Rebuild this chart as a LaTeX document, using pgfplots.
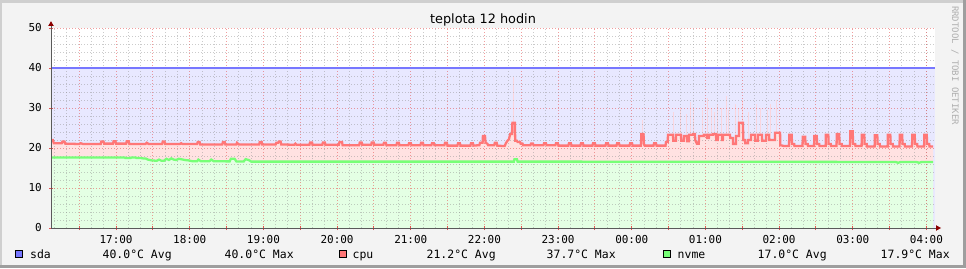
\documentclass[border=0pt]{standalone}
\usepackage{fontspec}
\setmainfont{DejaVu Sans}
\setmonofont{DejaVu Sans Mono}
\usepackage{pgfplots}
\pgfplotsset{compat=1.18}
\usepackage{pgfplotstable}

\definecolor{bgc}{RGB}{243,243,243}
\definecolor{shA}{RGB}{207,207,207}
\definecolor{shB}{RGB}{158,158,158}
\definecolor{sdaline}{RGB}{119,119,255}
\definecolor{sdafill}{RGB}{232,232,255}
\definecolor{cpuline}{RGB}{255,119,119}
\definecolor{cpufill}{RGB}{255,226,226}
\definecolor{cpumax}{RGB}{250,214,222}
\definecolor{nvmeline}{RGB}{119,255,119}
\definecolor{nvmefill}{RGB}{228,255,228}
\definecolor{gridmin}{RGB}{140,140,140}
\definecolor{gridmaj}{RGB}{230,80,80}
\definecolor{axisc}{RGB}{90,90,90}
\definecolor{arrowc}{RGB}{140,0,0}
\definecolor{credit}{RGB}{175,175,175}

\newcommand\legfont{\ttfamily\fontsize{11.5}{13}\selectfont}

% minutes since 16:00, temperature in degC
\pgfplotstableread{
m v
7 22.0
8.5 22.0
9.3 21.2
15.8 21.2
16.3 21.6
18.0 21.6
18.5 21.1
30 21.0
31 21.2
33 21.0
47.5 21.0
48 21.6
49.8 21.6
50.3 21.1
57.5 21.1
58 21.7
59.5 21.7
60 21.1
68.2 21.1
68.7 21.7
70.3 21.7
70.8 21.0
84 21.0
85 21.3
86.5 21.0
97.5 21.0
98 21.6
99.5 21.6
100 21.0
112 21.0
113 21.2
114 21.0
126 21.0
126.5 21.5
128 21.5
128.5 20.9
146.5 20.9
147 21.5
148.5 21.5
149 20.9
158 20.9
158.5 21.3
160 20.9
176.6 20.9
177 21.5
178.6 21.5
179 20.9
190 20.9
190.5 21.3
192 21.3
192.5 21.6
194 21.6
194.5 20.9
205 20.8
206 21.1
207 20.8
217.5 20.8
218 21.4
219.6 21.4
220 20.8
228 20.8
228.5 21.4
230 21.4
230.5 20.8
241.5 20.8
242 21.5
244 21.5
244.5 20.7
258 20.7
258.5 21.4
260 21.4
260.5 20.8
267.8 20.8
268.2 21.4
269.8 21.4
270.2 20.8
277.7 20.8
278.2 21.3
279.7 21.3
280.2 20.7
288.3 20.7
288.8 21.3
290.3 21.3
290.8 20.7
298.1 20.7
298.6 21.2
300.1 21.2
300.6 20.7
307.9 20.7
308.4 21.3
309.9 21.3
310.4 20.7
316.8 20.7
317.3 21.2
318.8 21.2
319.3 20.7
327.4 20.7
327.9 21.3
329.4 21.3
329.9 20.6
338 20.6
338.5 21.2
340 21.2
340.5 20.6
348.6 20.6
349.1 21.2
350.6 21.2
351.1 20.6
355.9 20.7
356.4 21.3
358.5 21.3
358.8 23.0
360.5 23.0
360.9 21.4
362.5 21.0
363 20.7
368 20.7
368.5 21.3
370 21.3
370.5 20.6
375 20.5
376.5 20.5
377.5 21.2
378.8 21.8
380 22.2
381 23.5
382.5 23.5
382.8 26.3
384.8 26.3
385.1 21.8
386.5 21.8
387 21.5
389 21.5
389.5 21.1
391 21.1
391.5 20.7
397.5 20.7
398 21.1
399.5 21.1
400 20.7
408.1 20.7
408.6 21.2
410.1 21.2
410.6 20.7
417.8 20.7
418.3 21.2
419.8 21.2
420.3 20.6
428.4 20.6
428.9 21.2
430.4 21.2
430.9 20.6
438.2 20.6
438.7 21.2
440.2 21.2
440.7 20.6
448 20.6
448.5 21.2
450 21.2
450.5 20.6
458.6 20.6
459.1 21.2
460.6 21.2
461.1 20.6
467.6 20.6
468.1 21.2
469.6 21.2
470.1 20.6
478.2 20.6
478.7 21.2
480.2 21.2
480.7 20.6
487.5 20.6
487.8 23.5
489.6 23.5
489.9 21.0
490.5 20.6
497.7 20.6
498.2 21.2
499.7 21.2
500.2 20.6
507.5 20.6
507.9 21.5
509.3 21.5
509.5 23.3
513.6 23.3
513.8 21.8
516 21.8
516.1 23.3
520.1 23.3
520.3 21.8
522.5 21.8
522.6 23.0
525.0 23.0
525.2 21.7
526.6 21.7
526.7 23.3
529.9 23.3
530 23.5
531.5 23.5
531.7 22.0
533 21.1
534.6 21.1
534.8 23.0
538.8 23.0
538.9 23.3
541.2 23.3
541.4 22.5
542.8 22.5
542.9 23.3
546.2 23.3
546.3 23.5
548.6 23.5
548.8 22.0
550.1 22.0
550.2 23.3
553.5 23.3
553.6 22.0
554.2 22.0
554.3 23.3
560 23.3
560.2 22.5
562.4 22.5
562.5 21.0
564.8 21.0
564.9 23.0
567.3 23.0
567.4 26.3
570.6 26.3
570.8 22.0
572.3 22.0
572.4 21.2
574.6 21.2
574.7 22.0
577.1 22.0
577.2 23.3
580.4 23.3
580.5 21.8
582.8 21.8
582.9 23.3
586.1 23.3
586.2 21.8
589.3 21.8
589.4 23.3
591.8 23.3
591.9 22.0
596.6 22.0
596.7 23.8
600.8 23.8
601 20.7
604 20.5
608.1 20.5
608.3 23.3
610.3 23.3
610.5 21.0
612.3 21.0
612.5 20.5
619.1 20.5
619.3 22.8
621.3 22.8
621.5 21.0
623.3 21.0
623.5 20.5
628.5 20.5
628.7 23.0
630.7 23.0
630.9 21.0
632.7 21.0
632.9 20.5
637.9 20.5
638.1 23.3
640.1 23.3
640.3 21.0
642.1 21.0
642.3 20.5
646.8 20.5
647.0 23.5
649.0 23.5
649.2 21.0
651.0 21.0
651.2 20.5
657.8 20.5
658.0 24.2
660.0 24.2
660.2 21.0
662.0 21.0
662.2 20.5
667.2 20.5
667.4 23.3
669.4 23.3
669.6 21.0
671.4 21.0
671.6 20.4
677.8 20.4
678.0 23.2
680.0 23.2
680.2 21.0
682.0 21.0
682.2 20.4
688.4 20.4
688.6 23.3
690.6 23.3
690.8 21.0
692.6 21.0
692.8 20.4
698.1 20.4
698.3 23.3
700.3 23.3
700.5 21.0
702.3 21.0
702.5 20.4
708.3 20.4
708.5 23.3
710.5 23.3
710.7 21.0
712.5 21.0
712.7 20.4
718.1 20.4
718.3 23.3
720.3 23.3
720.5 21.0
722.3 21.0
722.5 20.4
725.4 20.4
}\cpudata

\pgfplotstableread{
m v
384 37.7
488.8 27.0
513.6 29.0
519.3 30.0
524.2 28.5
527.5 31.5
529.9 30.0
538.0 29.5
541.3 32.5
544.6 30.0
547.0 29.0
550.2 31.0
553.5 30.0
556.8 33.0
559.2 29.5
564.1 31.0
566.6 30.0
569.8 32.0
574.7 29.0
581.2 31.0
584.5 30.0
590.2 29.5
593.4 31.0
597.5 32.0
}\cpumaxdata

\pgfplotstableread{
m v
7 17.65
67 17.65
67.5 17.5
72 17.5
72.5 17.65
76 17.65
76.5 17.5
80 17.5
82 17.4
84 17.4
86 17.1
89 16.9
93 16.8
95 17.1
97 16.8
99 16.8
101 17.3
103 17.0
105 17.4
107 17.1
109 17.0
111 17.3
113 17.2
116 17.0
119 16.9
122 16.7
126 16.7
127 17.1
129 16.7
136 16.7
137.5 17.1
139.5 16.7
152.5 16.65
153.5 17.3
156.5 17.3
158 16.65
164 16.65
165.5 17.2
168 17.0
170 16.6
384 16.6
384.5 17.2
386.5 17.2
387 16.6
600 16.55
695 16.5
697 16.3
699 16.5
712 16.5
714 16.3
716 16.5
725.4 16.5
}\nvmedata

\pgfplotsset{
  rrdbox/.style={
    at={(51bp,40bp)}, anchor=south west,
    scale only axis, width=884bp, height=200bp,
    xmin=7, xmax=727, ymin=0, ymax=50,
    no markers,
  }
}

\begin{document}
\begin{tikzpicture}
\begin{scope}[x=1bp,y=1bp]
% canvas and shaded frame
\fill[bgc] (0,0) rectangle (966,268);
\fill[shA] (0,265) rectangle (966,268);
\fill[shA] (0,0) rectangle (2,268);
\fill[shB] (0,0) rectangle (966,3);
\fill[shB] (963,0) rectangle (966,268);
\fill[white] (51,40) rectangle (935,240);
\end{scope}

% first axis: filled areas, grid over them, ticks and labels
\begin{axis}[
  rrdbox,
  axis on top,
  axis line style={draw=none},
  tick pos=left,
  xtick={30,60,...,720},
  xticklabels={{},17:00,{},18:00,{},19:00,{},20:00,{},21:00,{},22:00,{},23:00,{},00:00,{},01:00,{},02:00,{},03:00,{},04:00},
  minor xtick={10,20,40,50,70,80,100,110,130,140,160,170,190,200,220,230,250,260,280,290,310,320,340,350,370,380,400,410,430,440,460,470,490,500,520,530,550,560,580,590,610,620,640,650,670,680,700,710,720},
  ytick={0,10,...,50},
  minor ytick={2,4,6,8,12,14,16,18,22,24,26,28,32,34,36,38,42,44,46,48},
  grid=both,
  major grid style={draw=gridmaj, draw opacity=0.55, dash pattern=on 1bp off 2bp, line width=1bp},
  minor grid style={draw=gridmin, draw opacity=0.45, dash pattern=on 1bp off 2bp, line width=1bp},
  major tick length=4bp, minor tick length=0bp,
  tick align=center,
  major tick style={draw=gridmaj, line width=1bp},
  /pgf/number format/assume math mode=true,
  ticklabel style={font=\ttfamily\fontsize{11}{13}\selectfont, inner sep=0pt, text=black},
  xticklabel style={anchor=base, yshift=-13bp},
  yticklabel style={anchor=base east, xshift=-7bp, yshift=-3.8bp},
]
\addplot[draw=none, fill=sdafill] coordinates {(7,40) (727,40)} \closedcycle;
\addplot[ycomb, cpumax, line width=1bp] table {\cpumaxdata};
\addplot[draw=none, fill=cpufill] table {\cpudata} \closedcycle;
\addplot[draw=none, fill=nvmefill] table {\nvmedata} \closedcycle;
\end{axis}

% second axis, same frame: the lines drawn over the grid
\begin{axis}[rrdbox, hide axis]
\addplot[sdaline, line width=2.3bp] coordinates {(7,40) (727,40)};
\addplot[cpuline, line width=2.3bp, line join=miter] table {\cpudata};
\addplot[nvmeline, line width=2.3bp, line join=miter] table {\nvmedata};
\end{axis}

\begin{scope}[x=1bp,y=1bp]
% axis lines with arrows
\draw[axisc, line width=1bp] (51,40) -- (51,243);
\fill[arrowc] (48.2,242) -- (53.8,242) -- (51,246.8) -- cycle;
\draw[axisc, line width=1bp] (51,40) -- (937,40);
\fill[arrowc] (936,37.2) -- (936,42.8) -- (941,40) -- cycle;

% title
\node[anchor=base, inner sep=0pt, font=\fontsize{12.9}{15}\selectfont] at (483,244.5) {teplota 12 hodin};

% credit
\node[rotate=-90, anchor=west, inner sep=0pt, font=\ttfamily\fontsize{9}{10}\selectfont, text=credit] at (955,262) {RRDTOOL / TOBI OETIKER};

% legend
\filldraw[fill=sdaline, draw=black, line width=0.8bp] (15.5,10.5) rectangle (22.5,17.5);
\node[anchor=base west, inner sep=0pt, font=\legfont] at (30,10) {sda};
\node[anchor=base west, inner sep=0pt, font=\legfont] at (102.5,10) {40.0°C Avg};
\node[anchor=base west, inner sep=0pt, font=\legfont] at (224.5,10) {40.0°C Max};
\filldraw[fill=cpuline, draw=black, line width=0.8bp] (339.5,10.5) rectangle (346.5,17.5);
\node[anchor=base west, inner sep=0pt, font=\legfont] at (352.5,10) {cpu};
\node[anchor=base west, inner sep=0pt, font=\legfont] at (426.5,10) {21.2°C Avg};
\node[anchor=base west, inner sep=0pt, font=\legfont] at (546.5,10) {37.7°C Max};
\filldraw[fill=nvmeline, draw=black, line width=0.8bp] (663.5,10.5) rectangle (670.5,17.5);
\node[anchor=base west, inner sep=0pt, font=\legfont] at (677.5,10) {nvme};
\node[anchor=base west, inner sep=0pt, font=\legfont] at (757.5,10) {17.0°C Avg};
\node[anchor=base west, inner sep=0pt, font=\legfont] at (880.5,10) {17.9°C Max};
\end{scope}
\end{tikzpicture}
\end{document}
